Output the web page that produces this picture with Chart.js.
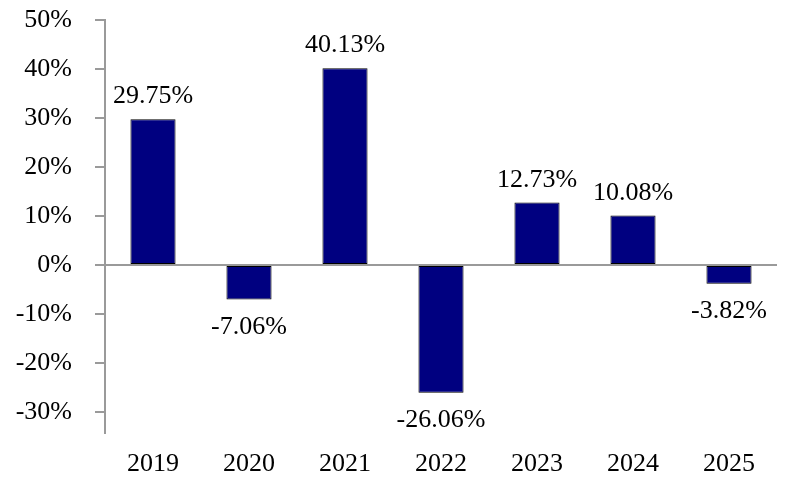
<!DOCTYPE html>
<html>
<head>
<meta charset="utf-8">
<script src="https://cdn.jsdelivr.net/npm/chart.js@4/dist/chart.umd.min.js"></script>
<style>
  html, body { margin: 0; padding: 0; background: #ffffff; }
  #wrap { width: 796px; height: 502px; position: relative; }
</style>
</head>
<body>
<div id="wrap"><canvas id="c" width="796" height="502"></canvas></div>
<script>
const categories = ['2019', '2020', '2021', '2022', '2023', '2024', '2025'];
const returnsPct = [29.75, -7.06, 40.13, -26.06, 12.73, 10.08, -3.82];
const yTickValues = [50, 40, 30, 20, 10, 0, -10, -20, -30];
const yMin = -34.3;
const yMax = 50;

const FONT = '"Liberation Serif", "Times New Roman", serif';

const valueLabels = {
  id: 'valueLabels',
  afterDatasetsDraw(chart) {
    const ctx = chart.ctx;
    const meta = chart.getDatasetMeta(0);
    ctx.save();
    ctx.font = '26px ' + FONT;
    ctx.fillStyle = '#000000';
    ctx.textAlign = 'center';
    ctx.textBaseline = 'alphabetic';
    meta.data.forEach((bar, i) => {
      const v = returnsPct[i];
      const txt = v.toFixed(2) + '%';
      const y = v >= 0 ? bar.y - 16 : bar.y + 34;
      ctx.fillText(txt, bar.x, y);
    });
    ctx.restore();
  }
};

new Chart(document.getElementById('c'), {
  type: 'bar',
  data: {
    labels: categories,
    datasets: [{
      data: returnsPct,
      backgroundColor: '#000080',
      borderColor: '#000000',
      borderWidth: 1,
      borderSkipped: false,
      barPercentage: 0.47,
      categoryPercentage: 1.0
    }]
  },
  options: {
    responsive: false,
    animation: false,
    devicePixelRatio: 1,
    layout: { padding: { top: 20, right: 19, left: 0, bottom: 0 } },
    plugins: {
      legend: { display: false },
      tooltip: { enabled: false }
    },
    scales: {
      x: {
        offset: true,
        grid: { display: false, drawTicks: false },
        border: { display: false },
        ticks: {
          color: '#000000',
          font: { family: FONT, size: 26 },
          padding: 16,
          maxRotation: 0
        },
        afterFit(scale) {
          scale.height = 69;
          scale.paddingLeft = 0;
          scale.paddingRight = 0;
        }
      },
      y: {
        min: yMin,
        max: yMax,
        afterBuildTicks(scale) {
          scale.ticks = yTickValues.map(v => ({ value: v }));
        },
        grid: {
          drawOnChartArea: true,
          color: (c) => (c.tick && c.tick.value === 0 ? '#9a9a9a' : 'rgba(0,0,0,0)'),
          tickColor: '#9a9a9a',
          tickLength: 10,
          lineWidth: 2
        },
        border: { display: true, color: '#9a9a9a', width: 2 },
        ticks: {
          color: '#000000',
          font: { family: FONT, size: 26 },
          padding: 23,
          callback: (v) => v + '%'
        },
        afterFit(scale) {
          scale.width = 105;
          scale.paddingTop = 0;
          scale.paddingBottom = 0;
        }
      }
    }
  },
  plugins: [valueLabels]
});
</script>
</body>
</html>
